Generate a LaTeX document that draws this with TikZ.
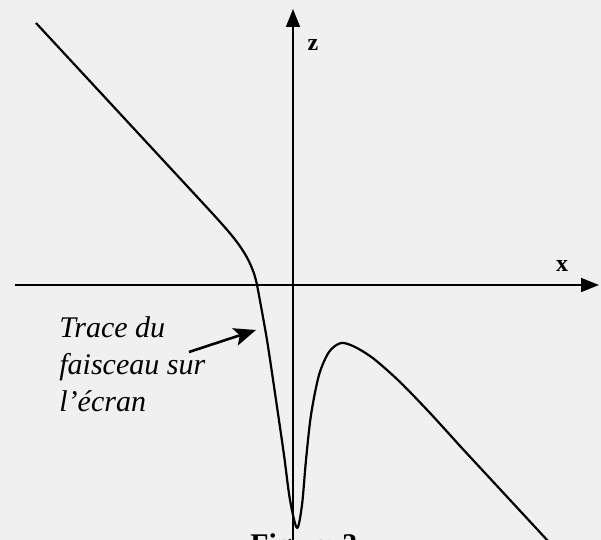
\documentclass[tikz,border=0pt]{standalone}
\usepackage{fontspec}
\setmainfont{Liberation Serif}
\usetikzlibrary{arrows.meta}
\usetikzlibrary{calc,positioning}

\tikzset{
    axis/.style = {line width=0.8pt, -{Triangle[length=9pt, width=7pt]}},
    trace/.style = {line width=1.1pt, line join=round},
    axislabel/.style = {font=\fontsize{12}{14}\selectfont\bfseries, inner sep=0pt},
    pointer/.style = {line width=1.3pt, -{Stealth[length=11pt, width=9pt, inset=2.5pt]}}
}

\begin{document}
\begin{tikzpicture}[>=Stealth, x=0.5pt, y=-0.5pt]
    \fill[black!6] (0,0) rectangle (601,540);
    \useasboundingbox (0,0) rectangle (601,540);

    % axes
    \coordinate (zbot) at (293,540);
    \coordinate (ztop) at (293,9);
    \coordinate (xleft) at (15,285);
    \coordinate (xright) at (599,285);
    \draw[axis] (zbot) -- (ztop);
    \draw[axis] (xleft) -- (xright);
    \node[axislabel] (zlab) at (313,45) {z};
    \node[axislabel] (xlab) at (562,266) {x};

    % trace du faisceau
    \draw[trace] (36,23) -- (200,200)
        .. controls (235,238) and (252,255) .. (258,290)
        plot[smooth, tension=0.5] coordinates {
        (258,290) (267,340) (276,400) (284,455) (290,500) (297,528)
        (302,505) (306,460) (311,415) (319,375) (329,352) (341,343)
        (355,347) (374,359) (400,382) (430,413) (460,446)}
        -- (548,541);

    % legende
    \node[font=\fontsize{15}{18.5}\selectfont\itshape, align=left,
          anchor=north west, inner sep=0pt] (legende) at (59,316)
        {Trace du\\ faisceau sur\\ l'écran};
    \coordinate (pointtail) at (189,352);
    \coordinate (pointtip) at (256,330);
    \draw[pointer] (pointtail) -- (pointtip);

    \node[font=\fontsize{15}{18}\selectfont\bfseries, anchor=north west,
          inner sep=0pt] (figlab) at (250,533) {Figure 3};
\end{tikzpicture}
\end{document}
